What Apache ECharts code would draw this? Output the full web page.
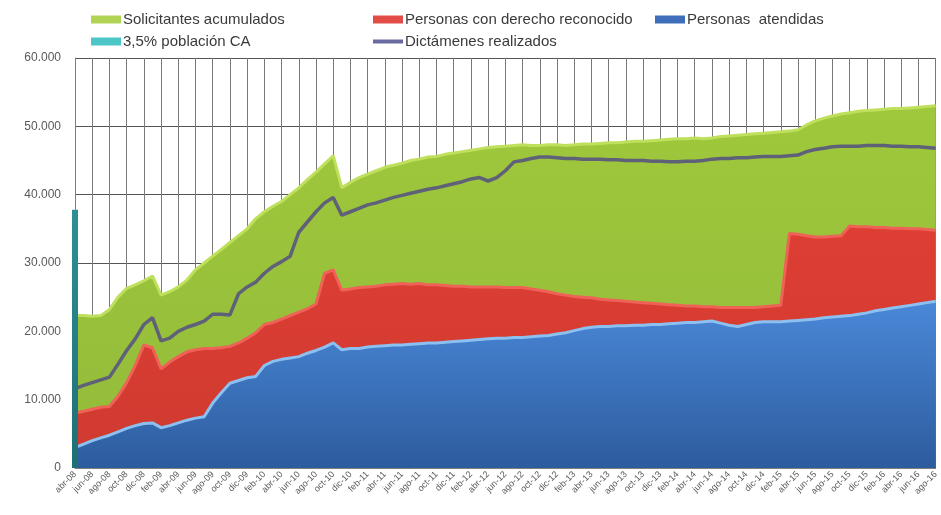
<!DOCTYPE html>
<html>
<head>
<meta charset="utf-8">
<script src="https://cdn.jsdelivr.net/npm/echarts@6/dist/echarts.min.js"></script>
<style>
  html, body { margin: 0; padding: 0; background: #ffffff; }
  #chart { width: 941px; height: 515px; }
</style>
</head>
<body>
<div id="chart"></div>
<script>
// Monthly categories (abr-08 .. ago-16)
const months = [
  'abr-08','may-08','jun-08','jul-08','ago-08','sep-08','oct-08','nov-08','dic-08',
  'ene-09','feb-09','mar-09','abr-09','may-09','jun-09','jul-09','ago-09','sep-09','oct-09','nov-09','dic-09',
  'ene-10','feb-10','mar-10','abr-10','may-10','jun-10','jul-10','ago-10','sep-10','oct-10','nov-10','dic-10',
  'ene-11','feb-11','mar-11','abr-11','may-11','jun-11','jul-11','ago-11','sep-11','oct-11','nov-11','dic-11',
  'ene-12','feb-12','mar-12','abr-12','may-12','jun-12','jul-12','ago-12','sep-12','oct-12','nov-12','dic-12',
  'ene-13','feb-13','mar-13','abr-13','may-13','jun-13','jul-13','ago-13','sep-13','oct-13','nov-13','dic-13',
  'ene-14','feb-14','mar-14','abr-14','may-14','jun-14','jul-14','ago-14','sep-14','oct-14','nov-14','dic-14',
  'ene-15','feb-15','mar-15','abr-15','may-15','jun-15','jul-15','ago-15','sep-15','oct-15','nov-15','dic-15',
  'ene-16','feb-16','mar-16','abr-16','may-16','jun-16','jul-16','ago-16'
];

// Solicitantes acumulados
const solicitantes = [
  22300,22300,22200,22300,23200,25000,26300,26800,27400,28100,
  25300,25800,26500,27500,29000,30000,31000,32000,33000,34000,
  35000,36500,37500,38300,39000,40000,41000,42200,43300,44500,
  45700,41000,41800,42500,43000,43500,44000,44300,44600,45000,
  45200,45500,45600,45900,46100,46300,46500,46700,46900,47000,
  47100,47200,47300,47200,47200,47300,47300,47200,47300,47400,
  47400,47500,47600,47600,47700,47800,47800,47900,48000,48100,
  48200,48200,48300,48200,48300,48500,48600,48700,48800,48900,
  49000,49100,49200,49300,49500,50200,50800,51200,51500,51800,
  52000,52200,52300,52400,52500,52600,52600,52700,52800,52900,
  53000
];

// Personas con derecho reconocido
const reconocidos = [
  8000,8300,8600,8900,9000,10500,12500,15000,18000,17600,
  14500,15500,16300,17000,17300,17500,17500,17600,17800,18300,
  19000,19800,21000,21300,21800,22300,22800,23300,24000,28500,
  29000,26000,26200,26400,26500,26600,26800,26900,27000,26900,
  27000,26800,26800,26700,26600,26600,26500,26500,26500,26500,
  26400,26400,26400,26200,26000,25800,25500,25300,25100,25000,
  24900,24700,24600,24500,24400,24300,24200,24100,24000,23900,
  23800,23700,23700,23600,23600,23500,23500,23500,23500,23500,
  23600,23700,23800,34300,34200,34000,33800,33800,33900,34000,
  35400,35300,35300,35200,35200,35100,35100,35000,35000,34900,
  34800
];

// Personas atendidas
const atendidas = [
  3000,3500,4000,4400,4800,5300,5800,6200,6500,6600,
  5900,6200,6600,7000,7300,7500,9500,11000,12400,12800,
  13200,13400,15000,15600,15900,16100,16300,16800,17200,17700,
  18300,17300,17500,17500,17700,17800,17900,18000,18000,18100,
  18200,18300,18300,18400,18500,18600,18700,18800,18900,19000,
  19000,19100,19100,19200,19300,19400,19600,19800,20100,20400,
  20600,20700,20700,20800,20800,20900,20900,21000,21000,21100,
  21200,21300,21300,21400,21500,21200,20900,20700,21000,21300,
  21400,21400,21400,21500,21600,21700,21800,22000,22100,22200,
  22300,22500,22700,23000,23200,23400,23600,23800,24000,24200,
  24400
];

// Dictámenes realizados
const dictamenes = [
  11600,12100,12500,12900,13300,15200,17200,18900,21000,22000,
  18600,19000,20000,20600,21000,21500,22500,22500,22400,25500,
  26500,27200,28500,29500,30200,31000,34500,36000,37500,38800,
  39600,37000,37500,38000,38500,38800,39200,39600,39900,40200,
  40500,40800,41000,41300,41600,41900,42300,42500,42000,42500,
  43500,44800,45000,45300,45500,45500,45400,45300,45300,45200,
  45200,45200,45100,45100,45000,45000,45000,44900,44900,44800,
  44800,44900,44900,45000,45200,45300,45300,45400,45400,45500,
  45600,45600,45600,45700,45800,46300,46600,46800,47000,47100,
  47100,47100,47200,47200,47200,47100,47100,47000,47000,46900,
  46800
];

// 3,5% de la población de la comunidad (single reference value)
const poblacionCA35 = 37800;

const yTicks = { min: 0, max: 60000, interval: 10000 };

const FONT = '"Liberation Sans", Arial, sans-serif';

function vgrad(top, bottom) {
  return new echarts.graphic.LinearGradient(0, 0, 0, 1, [
    { offset: 0, color: top }, { offset: 1, color: bottom }
  ]);
}

const chart = echarts.init(document.getElementById('chart'), null, { renderer: 'canvas' });

const legendBase = {
  orient: 'horizontal',
  itemWidth: 30,
  itemHeight: 8,
  itemGap: 4,
  textStyle: { fontFamily: FONT, fontSize: 15, color: '#3a3a3a', padding: [0, 0, 0, -3] },
  selectedMode: false
};

const option = {
  backgroundColor: '#ffffff',
  animation: false,
  legend: [
    Object.assign({}, legendBase, { left: 86, top: 7, data: [{ name: 'Solicitantes acumulados', icon: 'rect', itemStyle: { color: '#b2d454' } }] }),
    Object.assign({}, legendBase, { left: 368, top: 7, data: [{ name: 'Personas con derecho reconocido', icon: 'rect', itemStyle: { color: '#e24c46' } }] }),
    Object.assign({}, legendBase, { left: 650, top: 7, data: [{ name: 'Personas  atendidas', icon: 'rect', itemStyle: { color: '#3f6fba' } }] }),
    Object.assign({}, legendBase, { left: 86, top: 29, data: [{ name: '3,5% población CA', icon: 'rect', itemStyle: { color: '#4cc6c6' } }] }),
    Object.assign({}, legendBase, { left: 368, top: 29, itemHeight: 4, data: [{ name: 'Dictámenes realizados', icon: 'rect', itemStyle: { color: '#6a6aa0' } }] })
  ],
  grid: { left: 75, right: 2, top: 58, bottom: 47, containLabel: false },
  xAxis: {
    type: 'category',
    data: months,
    boundaryGap: false,
    axisLine: { show: true, lineStyle: { color: '#7f7f7f', width: 1 } },
    axisTick: { show: false },
    axisLabel: {
      interval: 1,
      rotate: 45,
      fontFamily: FONT,
      fontSize: 9,
      color: '#595959',
      margin: 5
    },
    splitLine: { show: true, interval: 1, lineStyle: { color: '#7a7a7a', width: 1 } }
  },
  yAxis: {
    type: 'value',
    min: yTicks.min,
    max: yTicks.max,
    interval: yTicks.interval,
    axisLine: { show: true, lineStyle: { color: '#7f7f7f' } },
    axisTick: { show: false },
    axisLabel: {
      fontFamily: FONT,
      fontSize: 12,
      color: '#595959',
      margin: 14,
      formatter: v => v === 0 ? '0' : v.toLocaleString('de-DE')
    },
    splitLine: { show: true, lineStyle: { color: '#555555', width: 1 } }
  },
  series: [
    {
      name: 'Solicitantes acumulados',
      type: 'line',
      data: solicitantes,
      symbol: 'none',
      lineStyle: { color: '#bfe05c', width: 3 },
      areaStyle: { color: vgrad('#9fc83c', '#93bb3a'), opacity: 1 },
      z: 2
    },
    {
      name: 'Personas con derecho reconocido',
      type: 'line',
      data: reconocidos,
      symbol: 'none',
      lineStyle: { color: '#ee6258', width: 3 },
      areaStyle: { color: vgrad('#de3e33', '#cf3a30'), opacity: 1 },
      z: 3
    },
    {
      name: 'Personas  atendidas',
      type: 'line',
      data: atendidas,
      symbol: 'none',
      lineStyle: { color: '#8cc0f0', width: 3 },
      areaStyle: { color: vgrad('#4a88d8', '#2d5c9e'), opacity: 1 },
      z: 4
    },
    {
      name: 'Dictámenes realizados',
      type: 'line',
      data: dictamenes,
      symbol: 'none',
      lineStyle: { color: '#5e6178', width: 3.5 },
      z: 5
    },
    {
      name: '3,5% población CA',
      type: 'bar',
      data: months.map((m, i) => (i === 0 ? poblacionCA35 : null)),
      barWidth: 6,
      clip: false,
      itemStyle: { color: vgrad('#2f8f95', '#1f6f74') },
      z: 6
    }
  ]
};

chart.setOption(option);
</script>
</body>
</html>
